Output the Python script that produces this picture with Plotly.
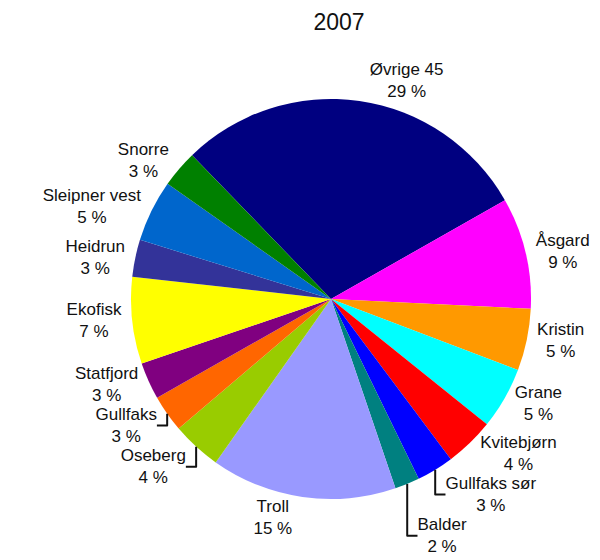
import plotly.graph_objects as go

fields = ["Øvrige 45", "Åsgard", "Kristin", "Grane", "Kvitebjørn", "Gullfaks sør",
          "Balder", "Troll", "Oseberg", "Gullfaks", "Statfjord", "Ekofisk",
          "Heidrun", "Sleipner vest", "Snorre"]
shares = [29, 9, 5, 5, 4, 3, 2, 15, 4, 3, 3, 7, 3, 5, 3]
colors = ["#000080", "#FF00FF", "#FF9900", "#00FFFF", "#FF0000", "#0000FF",
          "#008080", "#9999FF", "#99CC00", "#FF6600", "#800080", "#FFFF00",
          "#333399", "#0066CC", "#008000"]

FONT = "Liberation Sans, Arial, sans-serif"

fig = go.Figure(go.Pie(
    labels=fields,
    values=shares,
    sort=False,
    direction="clockwise",
    rotation=-44,
    marker=dict(colors=colors, line=dict(width=0)),
    textposition="outside",
    texttemplate="%{label}<br>%{value} %",
    outsidetextfont=dict(family=FONT, size=17, color="#111111"),
    showlegend=False,
    automargin=False,
))

fig.update_layout(
    width=600, height=560,
    margin=dict(l=123, r=77, t=91, b=69),
    paper_bgcolor="white",
    plot_bgcolor="white",
    title=dict(text="2007", x=0.52, xanchor="center", xref="paper",
               y=0.975, yanchor="middle",
               font=dict(family=FONT, size=23, color="#111111")),
)

fig.write_html("out.html")
